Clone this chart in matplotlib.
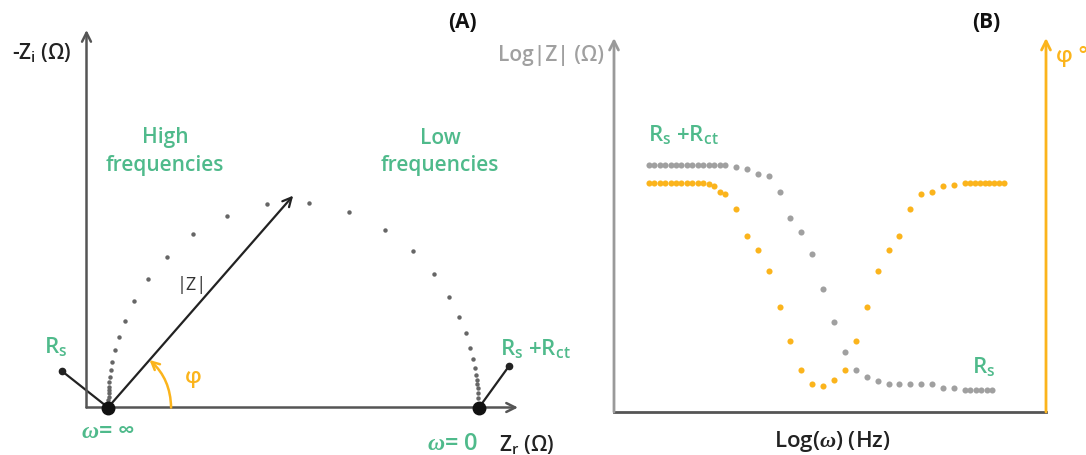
import numpy as np
import matplotlib
matplotlib.use("Agg")
import matplotlib.pyplot as plt

plt.rcParams['font.family'] = ['Open Sans', 'DejaVu Sans']
plt.rcParams['font.weight'] = 'semibold'
plt.rcParams['mathtext.fontset'] = 'custom'
plt.rcParams['mathtext.rm'] = 'Open Sans:semibold'
plt.rcParams['mathtext.it'] = 'Liberation Serif:italic'
plt.rcParams['mathtext.bf'] = 'Open Sans:bold'

GREEN = '#4fba8b'
ORANGE = '#fbb41c'
DARK = '#555555'

# --- panel A: Nyquist (ohm) ---
Rs = 10.0
Rct = 100.0
zr = [10.0, 10.3, 10.3, 10.3, 10.3, 10.3, 10.5, 10.8, 11.1, 11.9, 13.0, 14.6, 17.0, 20.8,
      25.9, 32.9, 42.1, 52.9, 64.2, 75.0, 84.7, 92.2, 97.9, 101.9, 104.6, 106.5, 107.6,
      108.4, 108.9, 109.2, 109.5, 109.5, 109.7, 109.7, 109.7]
zi = [2.0, 2.8, 3.9, 4.7, 5.5, 6.9, 8.2, 10.1, 12.3, 15.5, 19.0, 23.3, 28.7, 34.6,
      40.6, 46.8, 51.6, 54.9, 55.1, 52.7, 47.8, 42.2, 36.0, 29.8, 24.4, 20.1, 16.0,
      13.1, 10.6, 8.8, 7.4, 6.3, 5.3, 3.9, 2.6]
z_tip = (59.9, 57.1)      # |Z| vector end
rs_pin = (-2.4, 9.8)      # R_s label pointer end
rsct_pin = (118.1, 11.2)  # R_s+R_ct label pointer end

# --- panel B: Bode ---
log_w = [-8, -7.5, -7, -6.5, -6, -5.5, -5, -4.5, -4, -3.5, -3, -2.5, -2, -1.5, -1,
         0, 1, 2, 3, 4, 5, 6, 7, 8, 9, 10, 11, 12, 13, 14, 15, 16, 17, 18, 19, 20]
log_z = [6.6] * 15 + [6.55, 6.5, 6.36, 6.31, 5.88, 5.19, 4.81, 4.22, 3.29, 2.41, 1.6,
                      1.12, 0.94, 0.83, 0.75, 0.75, 0.75, 0.75, 0.75, 0.64, 0.64]
log_w_z_end = [21, 21.5, 22, 22.5, 23, 23.5]
log_z_end = [0.59, 0.59, 0.59, 0.59, 0.59, 0.59]

phase = [55.1] * 11 + [54.9, 54.4, 52.9, 52.5,
                       48.8, 42.3, 39.0, 33.9, 25.3, 17.1, 10.1, 6.7, 6.3, 7.7, 10.1,
                       17.1, 25.3, 33.9, 39.0, 42.3, 48.8, 52.5, 52.9, 54.4, 54.6]
log_w_p_end = [21.0, 21.45, 21.9, 22.35, 22.8, 23.25, 23.7, 24.15, 24.6]
phase_end = [55.1] * 9

W, H = 1086, 455
fig = plt.figure(figsize=(W / 100, H / 100), dpi=100)


def fpos(px, py):
    return px / W, 1 - py / H


def axes_box(left, top, right, bottom):
    return [left / W, 1 - bottom / H, (right - left) / W, (bottom - top) / H]


def axis_arrow(ax, start, end, color, lw=1.8):
    ax.annotate('', xy=end, xytext=start, xycoords='axes fraction',
                arrowprops=dict(arrowstyle='->', color=color, lw=lw, mutation_scale=16,
                                shrinkA=0, shrinkB=0))


# panel A
axA = fig.add_axes(axes_box(86.5, 30, 518, 407.5))
axA.set_xlim(4.2, 120.5)
axA.set_ylim(0, 101.75)
axA.axis('off')
axis_arrow(axA, (0, 0), (1, 0), DARK)
axis_arrow(axA, (0, 0), (0, 1), DARK)
axA.plot(zr, zi, 'o', color='#666666', ms=3.2, mec='none', zorder=2, clip_on=False)
axA.plot([Rs, rs_pin[0]], [0, rs_pin[1]], color='#222222', lw=1.6, clip_on=False)
axA.plot([rs_pin[0]], [rs_pin[1]], 'o', color='#222222', ms=4.5, clip_on=False)
axA.plot([Rs + Rct, rsct_pin[0]], [0, rsct_pin[1]], color='#222222', lw=1.6, clip_on=False)
axA.plot([rsct_pin[0]], [rsct_pin[1]], 'o', color='#222222', ms=4.5, clip_on=False)
axA.plot([Rs, Rs + Rct], [0, 0], 'o', color='#111111', ms=9, zorder=5, clip_on=False)
axA.annotate('', xy=z_tip, xytext=(Rs, 0),
             arrowprops=dict(arrowstyle='->', color='#222222', lw=1.6, mutation_scale=16,
                             shrinkA=0, shrinkB=0))
# phase angle arc
ang = np.arctan2(z_tip[1], z_tip[0] - Rs)
r_arc = 17.0
arc_end = (Rs + r_arc * np.cos(ang), r_arc * np.sin(ang))
axA.annotate('', xy=arc_end, xytext=(Rs + r_arc, 0),
             arrowprops=dict(arrowstyle='->', color=ORANGE, lw=1.8, mutation_scale=14,
                             shrinkA=0, shrinkB=0,
                             connectionstyle='arc3,rad=%.3f' % np.tan(ang / 4)))

# panel B
axB = fig.add_axes(axes_box(614, 38, 1046, 412))
axB.set_xlim(-11.19, 28.44)
axB.set_ylim(0, 10)
axB.axis('off')
axB2 = axB.twinx()
axB2.set_ylim(0, 90)
axB2.axis('off')
axis_arrow(axB, (0, 0), (0, 1), '#9a9a9a', lw=2.0)
axis_arrow(axB, (1, 0), (1, 1), ORANGE, lw=2.0)
axB.plot([0, 1], [0, 0], transform=axB.transAxes, color=DARK, lw=2.0, clip_on=False)
axB.plot(log_w, log_z, 'o', color='#a0a0a0', ms=4.4, mec='none')
axB.plot(log_w_z_end, log_z_end, 'o', color='#a0a0a0', ms=4.4, mec='none')
axB2.plot(log_w[:len(phase)], phase, 'o', color=ORANGE, ms=4.4, mec='none')
axB2.plot(log_w_p_end, phase_end, 'o', color=ORANGE, ms=4.4, mec='none')


# texts
def label(px, py, s, color='#222222', size=14, ha='center', va='center', **kw):
    x, y = fpos(px, py)
    fig.text(x, y, s, color=color, fontsize=size, ha=ha, va=va, **kw)


label(462, 22, '(A)', size=15, weight='bold', color='#111111')
label(986, 23, '(B)', size=15, weight='bold', color='#111111')
label(42, 53, r'-Z$_\mathrm{i}$ (Ω)', size=15)
label(527, 444, r'Z$_\mathrm{r}$ (Ω)', size=15)
label(165, 138, 'High', color=GREEN, size=15)
label(165, 166, 'frequencies', color=GREEN, size=15)
label(440, 138, 'Low', color=GREEN, size=15)
label(440, 166, 'frequencies', color=GREEN, size=15)
label(108, 432, r'$\omega$= ∞', color=GREEN, size=17)
label(453, 444, r'$\omega$= 0', color=GREEN, size=17)
label(192, 285, '|Z|', size=13, color='#333333', weight='normal')
label(193, 378, 'φ', color=ORANGE, size=16)
label(56, 346, r'R$_\mathrm{s}$', color=GREEN, size=16)
label(500, 348, r'R$_\mathrm{s}$ +R$_\mathrm{ct}$', color=GREEN, size=16, ha='left')
label(604, 56, 'Log|Z| (Ω)', color='#a0a0a0', size=15, ha='right')
label(1056, 56, 'φ °', color=ORANGE, size=16, ha='left')
label(648, 134, r'R$_\mathrm{s}$ +R$_\mathrm{ct}$', color=GREEN, size=16, ha='left')
label(984, 366, r'R$_\mathrm{s}$', color=GREEN, size=16)
label(832, 441, r'Log($\omega$) (Hz)', size=16)

fig.savefig('out.png', dpi=100)
